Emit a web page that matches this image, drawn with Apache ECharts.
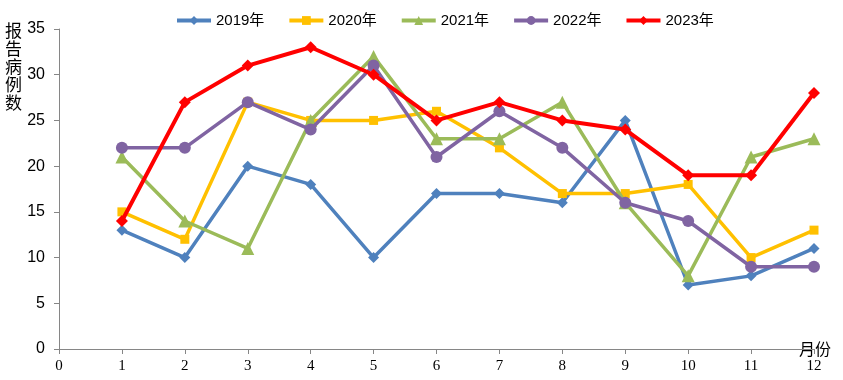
<!DOCTYPE html>
<html><head><meta charset="utf-8">
<script src="https://cdn.jsdelivr.net/npm/echarts@6/dist/echarts.min.js"></script>
<style>html,body{margin:0;padding:0;background:#fff}#c{width:843px;height:380px}</style>
</head><body><div id="c"></div>
<script>
const months = [1,2,3,4,5,6,7,8,9,10,11,12];
const xTicks = [0,1,2,3,4,5,6,7,8,9,10,11,12];
const yTicks = [0,5,10,15,20,25,30,35];
const seriesNames = ['2019年','2020年','2021年','2022年','2023年'];
const v2019 = [13,10,20,18,10,17,17,16,25,7,8,11];
const v2020 = [15,12,27,25,25,26,22,17,17,18,10,13];
const v2021 = [21,14,11,25,32,23,23,27,16,8,21,23];
const v2022 = [22,22,27,24,31,21,26,22,16,14,9,9];
const v2023 = [14,27,31,33,30,25,27,25,24,19,19,28];

const colors = ['#4F81BD','#FFC000','#9BBB59','#8064A2','#FF0000'];
const symbols = ['diamond','rect','triangle','circle','diamond'];
const sizes = [11,9,13,12,12];
const vals = [v2019,v2020,v2021,v2022,v2023];

const chart = echarts.init(document.getElementById('c'));
chart.setOption({
  animation:false,
  legend:{
    top:8, left:170, itemWidth:34, itemHeight:11, itemGap:23,
    lineStyle:{width:4},
    textStyle:{fontFamily:'Liberation Sans, Noto Sans CJK SC', fontSize:15, color:'#000'},
    data: seriesNames
  },
  grid:{left:59, right:29, top:29, bottom:31},
  xAxis:{
    type:'value', min:0, max:12, interval:1,
    name:'月份', nameLocation:'end', nameGap:-15,
    nameTextStyle:{fontFamily:'Noto Sans CJK SC', fontSize:16, color:'#000', padding:[0,0,2,0]},
    axisLine:{lineStyle:{color:'#868686', width:1}},
    axisTick:{show:true, length:5, lineStyle:{color:'#868686'}},
    axisLabel:{margin:10, color:'#000', fontFamily:'Liberation Serif, DejaVu Serif', fontSize:15,
      formatter: v => xTicks.includes(v) ? String(v) : ''},
    splitLine:{show:false}
  },
  yAxis:{
    type:'value', min:0, max:35, interval:5,
    axisLine:{show:true, lineStyle:{color:'#868686', width:1}},
    axisTick:{show:true, length:5, lineStyle:{color:'#868686'}},
    axisLabel:{margin:14, color:'#000', fontFamily:'Liberation Sans, Carlito', fontSize:16,
      formatter: v => yTicks.includes(v) ? String(v) : ''},
    splitLine:{show:false}
  },
  graphic:[{
    type:'text', left:5, top:22,
    style:{text:'报\n告\n病\n例\n数', font:'17px "Noto Sans CJK SC"', fill:'#000', lineHeight:18}
  }],
  series: seriesNames.map((n,i)=>({
    name:n, type:'line',
    data: months.map((m,j)=>[m, vals[i][j]]),
    symbol:symbols[i], symbolSize:sizes[i],
    lineStyle:{color:colors[i], width:i===4?4:3.5},
    itemStyle:{color:colors[i]},
    z: 2+i
  }))
});
</script></body></html>
